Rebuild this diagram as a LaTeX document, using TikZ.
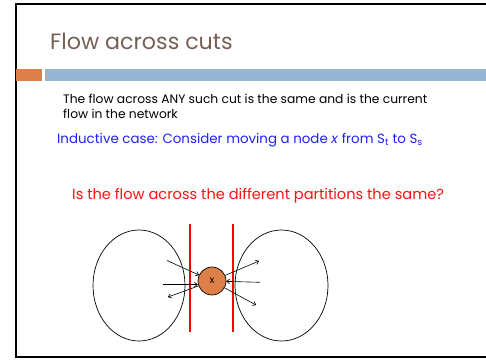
\documentclass[tikz,border=0pt]{standalone}
\usepackage{fontspec}
\setmainfont{Poppins}
\usetikzlibrary{arrows.meta,shapes.geometric}
\definecolor{titlebrown}{HTML}{775F55}
\definecolor{accorange}{HTML}{DD8047}
\definecolor{accblue}{HTML}{94B6D2}
\definecolor{textblue}{HTML}{1F1FFF}
\definecolor{textred}{HTML}{FF1010}
\tikzset{
  flowarrow/.style={-{To[length=3.5pt,width=5pt]}, line width=0.6pt},
  cutline/.style={draw=red, line width=1.4pt},
  region/.style={draw=black, line width=0.7pt},
  bodytext/.style={anchor=base west, inner sep=0pt, font=\fontsize{12.3}{14}\selectfont},
}
\begin{document}
\begin{tikzpicture}[x=1pt,y=-1pt]
\useasboundingbox (0,0) rectangle (486,359);
% frame
\draw[line width=2pt] (486,3.5) -- (15.5,3.5) -- (15.5,357) -- (486,357);
% accent bars
\fill[accorange] (16,69) rectangle (42,81);
\fill[accblue] (45,69) rectangle (486,81);
% title
\node[anchor=base west, inner sep=0pt, text=titlebrown, font=\fontsize{22.2}{26}\selectfont] (title) at (50,49) {Flow across cuts};
% body
\node[bodytext] (l1) at (63,103) {The flow across ANY such cut is the same and is the current};
\node[bodytext] (l2) at (63,118) {flow in the network};
\node[bodytext, text=textblue, font=\fontsize{13.4}{16}\selectfont] (l3) at (57,143.5) {Inductive case: Consider moving a node \textit{x} from S\textsubscript{t} to S\textsubscript{s}};
\node[anchor=base west, inner sep=0pt, text=textred, font=\fontsize{14.6}{17}\selectfont] (q) at (72,199) {Is the flow across the different partitions the same?};
% regions
\node[region, ellipse, minimum width=92pt, minimum height=111pt, inner sep=0pt] (st) at (139,285.5) {};
\node[region, ellipse, minimum width=93pt, minimum height=111pt, inner sep=0pt] (ss) at (281.5,285.5) {};
% cut lines
\coordinate (c1t) at (190,224); \coordinate (c1b) at (190,332);
\coordinate (c2t) at (233,224); \coordinate (c2b) at (233,332);
\draw[cutline] (c1t) -- (c1b);
\draw[cutline] (c2t) -- (c2b);
% node x
\node[circle, draw=black, line width=0.7pt, fill=accorange, minimum size=28pt, inner sep=0pt, font=\fontsize{10}{12}\selectfont] (x) at (212,281) {x};
% arrows
\coordinate (a1) at (167,260.5);
\coordinate (a2) at (163,284.5);
\coordinate (a3) at (168,297);
\coordinate (a4) at (259,261);
\coordinate (a5) at (260,282.3);
\coordinate (a6) at (256,305);
\draw[flowarrow] (a1) -- (x);
\draw[flowarrow] (a2) -- (x.west |- a2);
\draw[flowarrow] (x) -- (a3);
\draw[flowarrow] (x) -- (a4);
\draw[flowarrow] (a5) -- (x);
\draw[flowarrow] (x) -- (a6);
\end{tikzpicture}
\end{document}
